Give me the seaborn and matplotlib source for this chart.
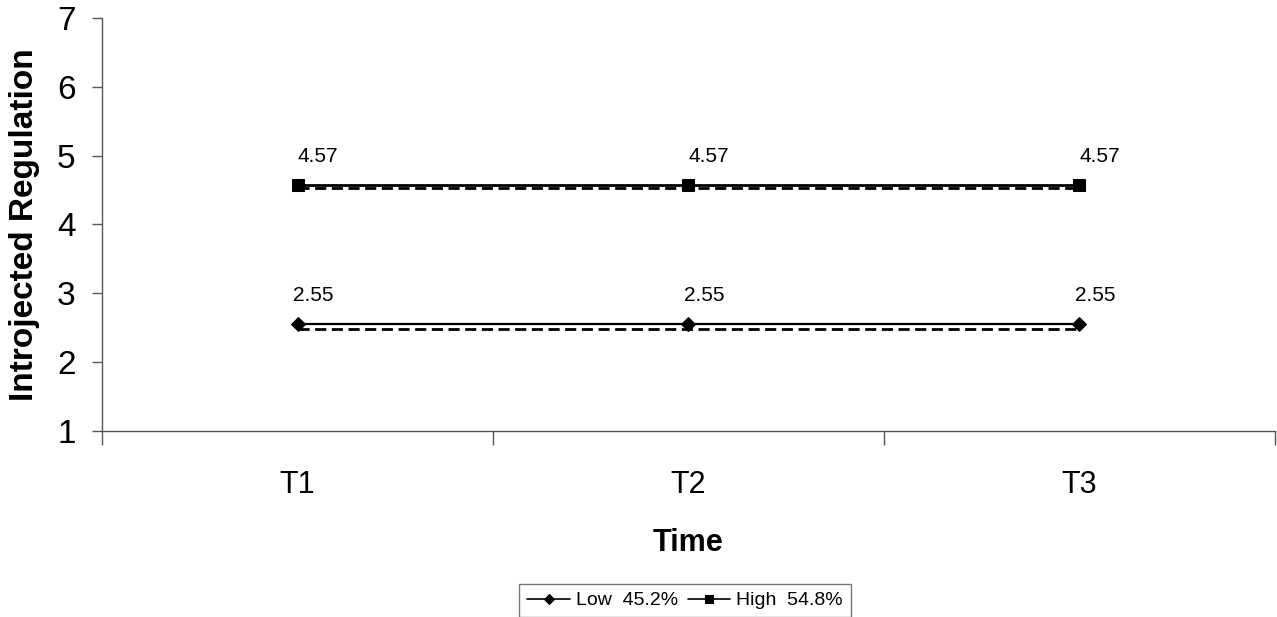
import numpy as np
import pandas as pd
import seaborn as sns
from matplotlib import pyplot as plt

# data
times = ['T1', 'T2', 'T3']
low = [2.55, 2.55, 2.55]
high = [4.57, 4.57, 4.57]
low_dash = [2.48, 2.48, 2.48]
high_dash = [4.53, 4.53, 4.53]
legend_labels = ['Low  45.2%', 'High  54.8%']
y_ticks = [1, 2, 3, 4, 5, 6, 7]

sns.set_style('white')
plt.rcParams['font.family'] = ['Liberation Sans', 'DejaVu Sans']
plt.rcParams['text.color'] = 'black'
plt.rcParams['axes.labelcolor'] = 'black'
plt.rcParams['xtick.color'] = 'black'
plt.rcParams['ytick.color'] = 'black'

fig = plt.figure(figsize=(12.77, 6.17), dpi=100)
ax = fig.add_axes([0.0799, 0.3015, 0.9185, 0.6693])

# dashed companion lines (no legend entry)
sns.lineplot(x=times, y=low_dash, ax=ax, color='black', lw=2, linestyle=(0, (4, 2)), legend=False)
sns.lineplot(x=times, y=high_dash, ax=ax, color='black', lw=2, linestyle=(0, (4, 2)), legend=False)

# main series
sns.lineplot(x=times, y=low, ax=ax, color='black', lw=1.6, marker='D', markersize=7,
             markeredgecolor='black', label=legend_labels[0])
sns.lineplot(x=times, y=high, ax=ax, color='black', lw=2, marker='s', markersize=8,
             markeredgecolor='black', label=legend_labels[1])

# value labels
for i, v in enumerate(high):
    ax.annotate(f'{v:.2f}', (i, v), xytext=(0, 14), textcoords='offset points',
                ha='left', va='bottom', fontsize=15)
for i, v in enumerate(low):
    ax.annotate(f'{v:.2f}', (i, v), xytext=(-3, 14), textcoords='offset points',
                ha='left', va='bottom', fontsize=15)

ax.set_xlim(-0.5, 2.5)
ax.set_ylim(1, 7)
ax.set_yticks(y_ticks)
ax.set_xticks(range(len(times)))
ax.set_xticklabels(times)
ax.set_xticks([-0.5, 0.5, 1.5, 2.5], minor=True)

ax.tick_params(axis='x', which='major', bottom=True, length=0, pad=28, labelsize=22)
ax.tick_params(axis='x', which='minor', bottom=True, length=10, width=1, color='#555555', direction='out')
ax.tick_params(axis='y', left=True, length=7, width=1, color='#555555', direction='out', pad=12, labelsize=24)

for s in ['top', 'right']:
    ax.spines[s].set_visible(False)
for s in ['left', 'bottom']:
    ax.spines[s].set_color('#555555')
    ax.spines[s].set_linewidth(1)

ax.set_xlabel('Time', fontsize=22, fontweight='bold', labelpad=20)
ax.set_ylabel('Introjected Regulation', fontsize=24, fontweight='bold', labelpad=12)

handles, labels = ax.get_legend_handles_labels()
ax.get_legend().remove()
leg = fig.legend(handles, labels, loc='upper center', bbox_to_anchor=(685 / 1277, 1 - 584 / 617),
                 ncol=2, frameon=True, fancybox=False, fontsize=14, handlelength=2.2,
                 handletextpad=0.3, columnspacing=0.5, borderpad=0.4, borderaxespad=0,
                 markerscale=0.8)
leg.get_frame().set_edgecolor('#555555')
leg.get_frame().set_linewidth(1)
for h in leg.legend_handles:
    h.set_linewidth(1.2)

fig.savefig('out.png', dpi=100)
